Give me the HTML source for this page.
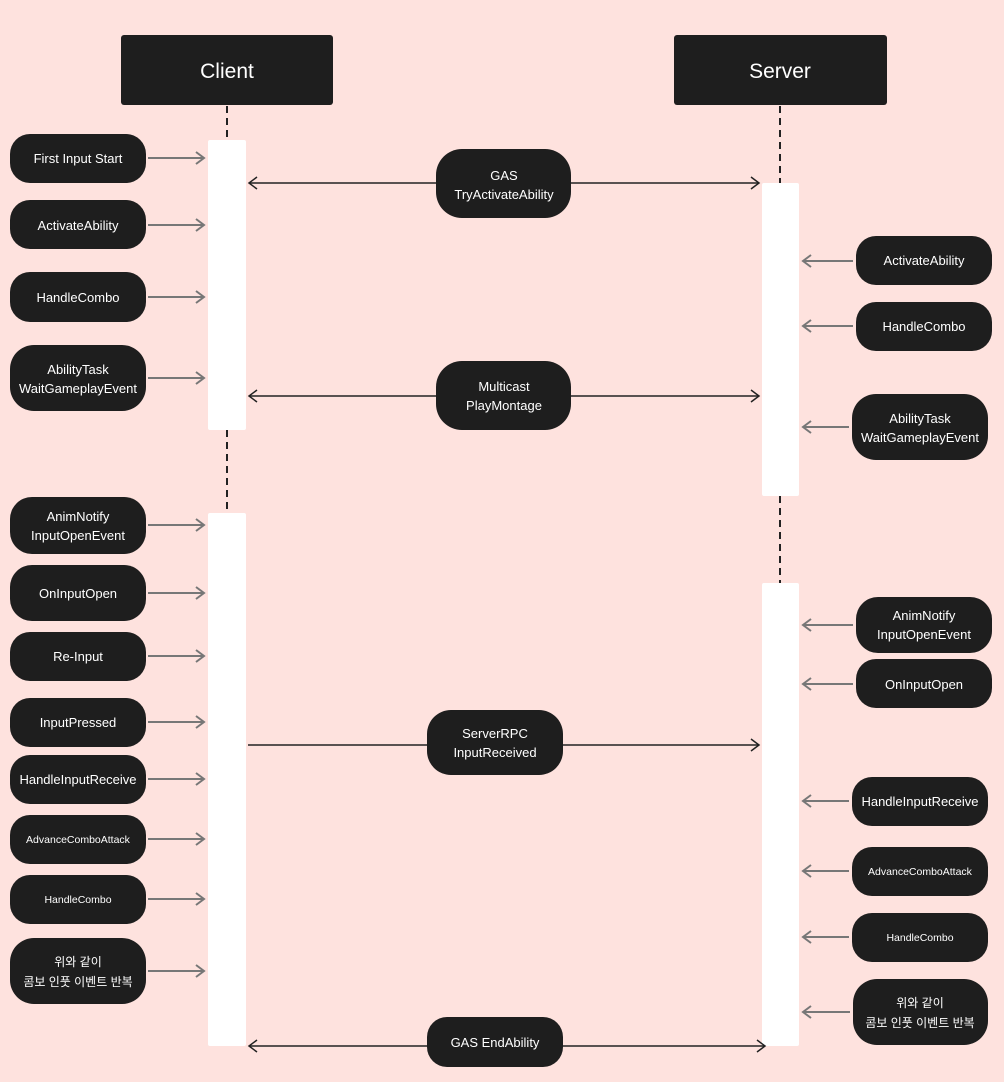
<!DOCTYPE html>
<html><head><meta charset="utf-8">
<style>
html,body{margin:0;padding:0;background:#fee2de;}
svg{display:block;}
text{font-family:"Liberation Sans","Noto Sans CJK KR",sans-serif;fill:#fff;text-anchor:middle;}
</style></head><body>
<svg width="1004" height="1082" viewBox="0 0 1004 1082" xmlns="http://www.w3.org/2000/svg">
<defs>
<marker id="ag" markerWidth="12" markerHeight="14" refX="10" refY="7" orient="auto" markerUnits="userSpaceOnUse"><path d="M2,1 L10,7 L2,13" fill="none" stroke="#777" stroke-width="2"/></marker>
<marker id="ab" markerWidth="12" markerHeight="14" refX="10" refY="7" orient="auto-start-reverse" markerUnits="userSpaceOnUse"><path d="M2,1 L10,7 L2,13" fill="none" stroke="#222" stroke-width="1.5"/></marker>
</defs>
<rect width="1004" height="1082" fill="#fee2de"/>
<!-- headers -->
<rect x="121" y="35" width="212" height="70" rx="3" fill="#1e1e1e"/>
<text x="227" y="78" font-size="21">Client</text>
<rect x="674" y="35" width="213" height="70" rx="3" fill="#1e1e1e"/>
<text x="780" y="78" font-size="21">Server</text>
<!-- dashed lifelines -->
<g stroke="#222" stroke-width="2" stroke-dasharray="7,5">
<line x1="227" y1="106" x2="227" y2="140"/>
<line x1="227" y1="430" x2="227" y2="513"/>
<line x1="780" y1="106" x2="780" y2="183"/>
<line x1="780" y1="496" x2="780" y2="583"/>
</g>
<!-- activation bars -->
<g fill="#fff">
<rect x="208" y="140" width="38" height="290" rx="2"/>
<rect x="208" y="513" width="38" height="533" rx="2"/>
<rect x="762" y="183" width="37" height="313" rx="2"/>
<rect x="762" y="583" width="37" height="463" rx="2"/>
</g>
<!-- central lines -->
<g stroke="#222" stroke-width="1.5" fill="none">
<line x1="249" y1="183" x2="759" y2="183" marker-start="url(#ab)" marker-end="url(#ab)"/>
<line x1="249" y1="396" x2="759" y2="396" marker-start="url(#ab)" marker-end="url(#ab)"/>
<line x1="248" y1="745" x2="759" y2="745" marker-end="url(#ab)"/>
<line x1="249" y1="1046" x2="765" y2="1046" marker-start="url(#ab)" marker-end="url(#ab)"/>
</g>
<g fill="#1e1e1e">
<rect x="436" y="149" width="135" height="69" rx="26"/>
<rect x="436" y="361" width="135" height="69" rx="26"/>
<rect x="427" y="710" width="136" height="65" rx="24"/>
<rect x="427" y="1017" width="136" height="50" rx="20"/>
</g>
<g font-size="13">
<text x="504" y="180">GAS</text><text x="504" y="199">TryActivateAbility</text>
<text x="504" y="391">Multicast</text><text x="504" y="410">PlayMontage</text>
<text x="495" y="738">ServerRPC</text><text x="495" y="757">InputReceived</text>
<text x="495" y="1047">GAS EndAbility</text>
</g>
<!-- left pills -->
<g fill="#1e1e1e">
<rect x="10" y="134" width="136" height="49" rx="20"/>
<rect x="10" y="200" width="136" height="49" rx="20"/>
<rect x="10" y="272" width="136" height="50" rx="20"/>
<rect x="10" y="345" width="136" height="66" rx="24"/>
<rect x="10" y="497" width="136" height="57" rx="22"/>
<rect x="10" y="565" width="136" height="56" rx="22"/>
<rect x="10" y="632" width="136" height="49" rx="20"/>
<rect x="10" y="698" width="136" height="49" rx="20"/>
<rect x="10" y="755" width="136" height="49" rx="20"/>
<rect x="10" y="815" width="136" height="49" rx="20"/>
<rect x="10" y="875" width="136" height="49" rx="20"/>
<rect x="10" y="938" width="136" height="66" rx="24"/>
</g>
<g font-size="13">
<text x="78" y="163">First Input Start</text>
<text x="78" y="230">ActivateAbility</text>
<text x="78" y="302">HandleCombo</text>
<text x="78" y="374">AbilityTask</text><text x="78" y="393">WaitGameplayEvent</text>
<text x="78" y="521">AnimNotify</text><text x="78" y="540">InputOpenEvent</text>
<text x="78" y="598">OnInputOpen</text>
<text x="78" y="661">Re-Input</text>
<text x="78" y="727">InputPressed</text>
<text x="78" y="784">HandleInputReceive</text>
<text x="78" y="843" font-size="10.5">AdvanceComboAttack</text>
<text x="78" y="903" font-size="10.5">HandleCombo</text>
<text x="78" y="966" font-size="12">위와 같이</text><text x="78" y="986" font-size="12">콤보 인풋 이벤트 반복</text>
</g>
<g stroke="#777" stroke-width="2" marker-end="url(#ag)">
<line x1="148" y1="158" x2="204" y2="158"/>
<line x1="148" y1="225" x2="204" y2="225"/>
<line x1="148" y1="297" x2="204" y2="297"/>
<line x1="148" y1="378" x2="204" y2="378"/>
<line x1="148" y1="525" x2="204" y2="525"/>
<line x1="148" y1="593" x2="204" y2="593"/>
<line x1="148" y1="656" x2="204" y2="656"/>
<line x1="148" y1="722" x2="204" y2="722"/>
<line x1="148" y1="779" x2="204" y2="779"/>
<line x1="148" y1="839" x2="204" y2="839"/>
<line x1="148" y1="899" x2="204" y2="899"/>
<line x1="148" y1="971" x2="204" y2="971"/>
</g>
<!-- right pills -->
<g fill="#1e1e1e">
<rect x="856" y="236" width="136" height="49" rx="20"/>
<rect x="856" y="302" width="136" height="49" rx="20"/>
<rect x="852" y="394" width="136" height="66" rx="24"/>
<rect x="856" y="597" width="136" height="56" rx="22"/>
<rect x="856" y="659" width="136" height="49" rx="20"/>
<rect x="852" y="777" width="136" height="49" rx="20"/>
<rect x="852" y="847" width="136" height="49" rx="20"/>
<rect x="852" y="913" width="136" height="49" rx="20"/>
<rect x="853" y="979" width="135" height="66" rx="24"/>
</g>
<g font-size="13">
<text x="924" y="265">ActivateAbility</text>
<text x="924" y="331">HandleCombo</text>
<text x="920" y="423">AbilityTask</text><text x="920" y="442">WaitGameplayEvent</text>
<text x="924" y="620">AnimNotify</text><text x="924" y="639">InputOpenEvent</text>
<text x="924" y="689">OnInputOpen</text>
<text x="920" y="806">HandleInputReceive</text>
<text x="920" y="875" font-size="10.5">AdvanceComboAttack</text>
<text x="920" y="941" font-size="10.5">HandleCombo</text>
<text x="920" y="1007" font-size="12">위와 같이</text><text x="920" y="1027" font-size="12">콤보 인풋 이벤트 반복</text>
</g>
<g stroke="#777" stroke-width="2" marker-end="url(#ag)">
<line x1="853" y1="261" x2="803" y2="261"/>
<line x1="853" y1="326" x2="803" y2="326"/>
<line x1="849" y1="427" x2="803" y2="427"/>
<line x1="853" y1="625" x2="803" y2="625"/>
<line x1="853" y1="684" x2="803" y2="684"/>
<line x1="849" y1="801" x2="803" y2="801"/>
<line x1="849" y1="871" x2="803" y2="871"/>
<line x1="849" y1="937" x2="803" y2="937"/>
<line x1="850" y1="1012" x2="803" y2="1012"/>
</g>
</svg>
</body></html>
